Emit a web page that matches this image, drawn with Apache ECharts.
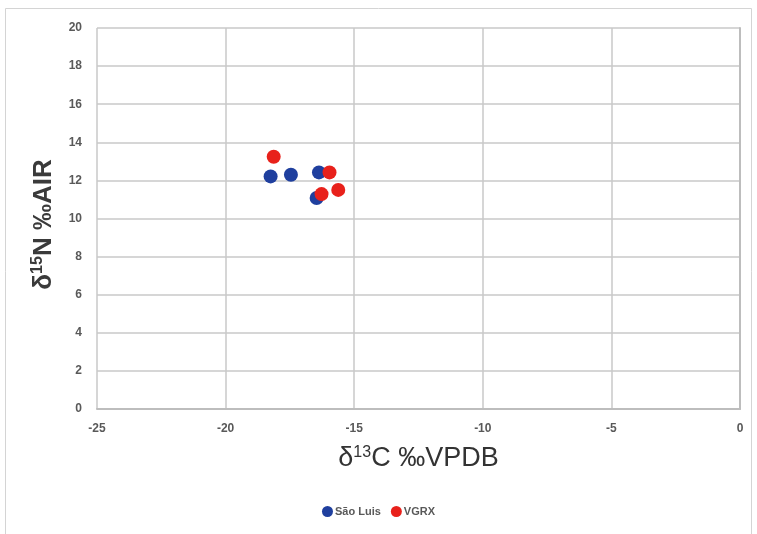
<!DOCTYPE html>
<html>
<head>
<meta charset="utf-8">
<script src="https://cdn.jsdelivr.net/npm/echarts@6/dist/echarts.min.js"></script>
<style>html,body{margin:0;padding:0;background:#fff}#c{width:757px;height:534px}</style>
</head>
<body>
<div id="c"></div>
<script>
const seriesNames = ['São Luis', 'VGRX'];
const saoLuisX = [-18.25, -17.46, -16.37, -16.46];
const saoLuisY = [12.21, 12.30, 12.42, 11.08];
const vgrxX = [-18.13, -15.96, -16.27, -15.62];
const vgrxY = [13.24, 12.42, 11.28, 11.50];
const xTicks = [-25, -20, -15, -10, -5, 0];
const yTicks = [0, 2, 4, 6, 8, 10, 12, 14, 16, 18, 20];

const zip = (xs, ys) => xs.map((x, i) => [x, ys[i]]);
const labelFont = '"Liberation Sans Narrow", "Liberation Sans", Arial, sans-serif';
const chart = echarts.init(document.getElementById('c'), null, {renderer: 'canvas'});
chart.setOption({
  animation: false,
  backgroundColor: '#fff',
  graphic: [{
    type: 'rect', shape: {x: 5.5, y: 8.5, width: 746, height: 540},
    style: {fill: 'none', stroke: '#d4d4d4', lineWidth: 1}, silent: true, z: -1
  }],
  grid: {left: 97, right: 17, top: 28, bottom: 125, containLabel: false},
  legend: {
    bottom: 12, left: 'center', itemWidth: 11, itemHeight: 11, itemGap: 10,
    icon: 'circle',
    data: seriesNames,
    textStyle: {fontFamily: labelFont, fontSize: 11, fontWeight: 'bold', color: '#595959', padding: [0, 0, 0, -3]}
  },
  xAxis: {
    type: 'value', min: xTicks[0], max: xTicks[xTicks.length - 1], interval: 5,
    name: '{a|δ}{s|13}{a|C ‰VPDB}', nameLocation: 'middle', nameGap: 36,
    nameTextStyle: {rich: {
      a: {fontFamily: labelFont, fontSize: 27, color: '#333'},
      s: {fontFamily: labelFont, fontSize: 16, color: '#333', verticalAlign: 'top', padding: [0, 0, 12, 0]}
    }},
    axisLine: {show: true, lineStyle: {color: '#bdbdbd', width: 2}},
    axisTick: {show: false},
    axisLabel: {margin: 14, fontFamily: labelFont, fontSize: 12, fontWeight: 'bold', color: '#595959',
      formatter: v => String(v)},
    splitLine: {show: true, lineStyle: {color: '#c8c8c8', width: 1.5}}
  },
  yAxis: {
    type: 'value', min: yTicks[0], max: yTicks[yTicks.length - 1], interval: 2,
    name: '{a|δ}{s|15}{a|N ‰AIR}', nameLocation: 'middle', nameGap: 39, nameRotate: 90,
    nameTextStyle: {padding: [0, 12, 0, 0], rich: {
      a: {fontFamily: '"Liberation Sans", Arial, sans-serif', fontSize: 26, fontWeight: 'bold', color: '#3a3a3a'},
      s: {fontFamily: '"Liberation Sans", Arial, sans-serif', fontSize: 16, fontWeight: 'bold', color: '#3a3a3a', verticalAlign: 'top', padding: [0, 0, 12, 0]}
    }},
    axisLine: {show: true, lineStyle: {color: '#bdbdbd', width: 2}},
    axisTick: {show: false},
    axisLabel: {margin: 15, fontFamily: labelFont, fontSize: 12, fontWeight: 'bold', color: '#595959'},
    splitLine: {show: true, lineStyle: {color: '#c8c8c8', width: 1.5}}
  },
  series: [
    {name: seriesNames[0], type: 'scatter', symbolSize: 14, itemStyle: {color: '#1f3f9e', opacity: 1},
     data: zip(saoLuisX, saoLuisY)},
    {name: seriesNames[1], type: 'scatter', symbolSize: 14, itemStyle: {color: '#e8211b', opacity: 1},
     data: zip(vgrxX, vgrxY)}
  ]
});
</script>
</body>
</html>
